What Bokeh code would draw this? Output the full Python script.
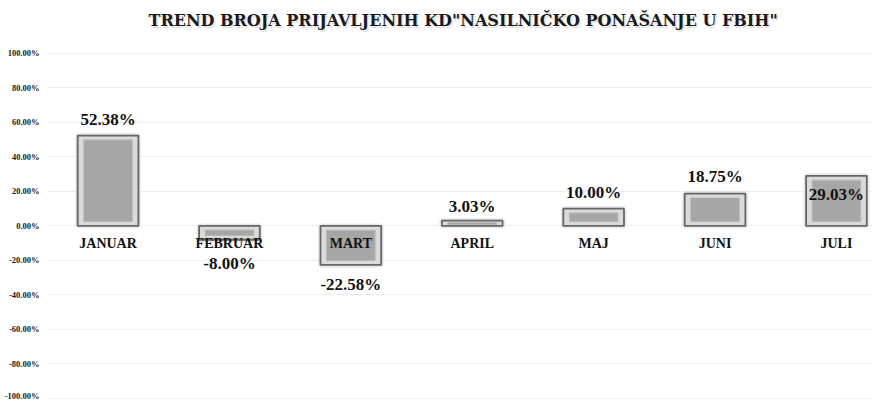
from bokeh.plotting import figure
from bokeh.models import ColumnDataSource, Range1d, NumeralTickFormatter, FixedTicker
from bokeh.embed import file_html
from bokeh.resources import INLINE
from bokeh.core.properties import value

# ---- data ----
months = ["JANUAR", "FEBRUAR", "MART", "APRIL", "MAJ", "JUNI", "JULI"]
trend = [0.5238, -0.0800, -0.2258, 0.0303, 0.1000, 0.1875, 0.2903]
label_texts = ["52.38%", "-8.00%", "-22.58%", "3.03%", "10.00%", "18.75%", "29.03%"]
y_ticks = [-1.0, -0.8, -0.6, -0.4, -0.2, 0.0, 0.2, 0.4, 0.6, 0.8, 1.0]
title_text = 'TREND BROJA PRIJAVLJENIH KD"NASILNIČKO PONAŠANJE U FBIH"'

# label offsets in screen px (style)
label_offsets = [-16, 24, 20, -14, -16, -17, 19]

xs = list(range(len(months)))
half_w = 0.25
inset_x = 0.05

outer = ColumnDataSource(dict(
    left=[x - half_w for x in xs], right=[x + half_w for x in xs],
    top=[max(v, 0) for v in trend], bottom=[min(v, 0) for v in trend]))

inner_top, inner_bot = [], []
for v in trend:
    ins = min(0.025, abs(v) * 0.3)
    if v >= 0:
        inner_top.append(v - ins); inner_bot.append(ins)
    else:
        inner_top.append(-ins); inner_bot.append(v + ins)
inner = ColumnDataSource(dict(
    left=[x - half_w + inset_x for x in xs], right=[x + half_w - inset_x for x in xs],
    top=inner_top, bottom=inner_bot))

labels = ColumnDataSource(dict(x=xs, y=trend, text=label_texts, off=label_offsets))
cats = ColumnDataSource(dict(x=xs, y=[0] * len(xs), text=months))

# layout: frame fills canvas; y range extended upward to hold the title
Y_TOP = 1.307
Y_BOT = -1.012
TITLE_Y = 1.19
X_LO, X_HI = -0.507, 6.297

p = figure(width=872, height=400, output_backend="svg", toolbar_location=None,
           x_axis_type=None,
           x_range=Range1d(X_LO, X_HI), y_range=Range1d(Y_BOT, Y_TOP),
           min_border_left=46, min_border_right=0, min_border_bottom=0, min_border_top=0)

p.outline_line_color = None
p.xgrid.grid_line_color = None
p.ygrid.grid_line_color = "#eeeeee"
p.ygrid.ticker = FixedTicker(ticks=y_ticks)

p.yaxis.ticker = FixedTicker(ticks=y_ticks)
p.yaxis.formatter = NumeralTickFormatter(format="0.00%")
p.yaxis.axis_line_color = None
p.yaxis.major_tick_line_color = None
p.yaxis.minor_tick_line_color = None
p.yaxis.major_label_text_font = "Liberation Serif"
p.yaxis.major_label_text_font_style = "bold"
p.yaxis.major_label_text_font_size = "8.5px"
p.yaxis.major_label_text_color = "#222222"
p.yaxis.major_label_standoff = 1

# soft shadow
p.quad(left="left", right="right", top="top", bottom="bottom", source=outer,
       fill_color="#bfbfbf", fill_alpha=0.25, line_color="#bfbfbf", line_alpha=0.35, line_width=5)
p.quad(left="left", right="right", top="top", bottom="bottom", source=outer,
       fill_color="#dadada", line_color="#666666", line_width=1.8)
p.quad(left="left", right="right", top="top", bottom="bottom", source=inner,
       fill_color="#a6a6a6", line_color="#b8b8b8", line_width=1)

p.text(x="x", y="y", text="text", source=cats, y_offset=18,
       text_font=value("Liberation Serif"), text_font_style="bold", text_font_size="14px",
       text_align="center", text_baseline="middle", text_color="#111111")

p.text(x="x", y="y", text="text", source=labels, y_offset="off",
       text_font=value("Liberation Serif"), text_font_style="bold", text_font_size="17px",
       text_align="center", text_baseline="middle", text_color="#111111")

# title with soft shadow
tx = (X_LO + X_HI) / 2 + 0.03
p.text(x=[tx], y=[TITLE_Y], text=[title_text], x_offset=1.5, y_offset=1.5,
       text_font=value("DejaVu Serif"), text_font_style="bold", text_font_size="16px",
       text_align="center", text_baseline="middle", text_color="#999999", text_alpha=0.3)
p.text(x=[tx], y=[TITLE_Y], text=[title_text],
       text_font=value("DejaVu Serif"), text_font_style="bold", text_font_size="16px",
       text_align="center", text_baseline="middle", text_color="#1a1a1a")

open("out.html", "w").write(file_html(p, INLINE))
